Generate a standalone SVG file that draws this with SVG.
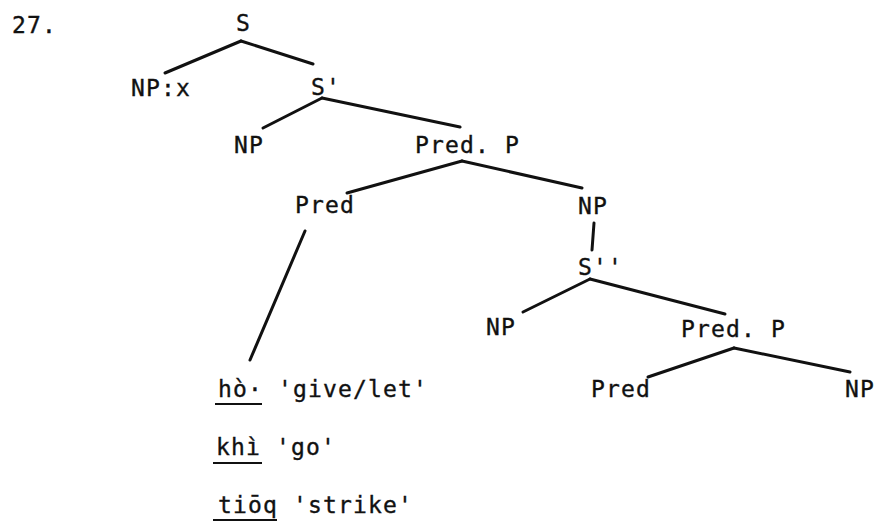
<svg xmlns="http://www.w3.org/2000/svg" width="878" height="527" viewBox="0 0 878 527">
  <style>
    .lbl { font-family: "DejaVu Sans Mono", "Liberation Mono", monospace; font-size: 23px; letter-spacing: 1.15px; fill: #111; stroke: #111; stroke-width: 0.35; }
    .edge { stroke: #111; stroke-width: 3; stroke-linecap: round; fill: none; }
    .ul { stroke: #111; stroke-width: 2; fill: none; }
  </style>
  <rect width="878" height="527" fill="#fff"/>

  <text class="lbl" x="12" y="33">27.</text>

  <!-- tree edges -->
  <g id="edges">
    <line class="edge" x1="241" y1="41" x2="165" y2="73"/>
    <line class="edge" x1="241" y1="41" x2="313" y2="64"/>
    <line class="edge" x1="322" y1="98" x2="263" y2="128"/>
    <line class="edge" x1="322" y1="98" x2="460" y2="127"/>
    <line class="edge" x1="462" y1="161" x2="347" y2="193"/>
    <line class="edge" x1="462" y1="161" x2="582" y2="188"/>
    <line class="edge" x1="594" y1="223" x2="592" y2="250"/>
    <line class="edge" x1="305" y1="231" x2="250" y2="360"/>
    <line class="edge" x1="590" y1="279" x2="523" y2="312"/>
    <line class="edge" x1="590" y1="279" x2="725" y2="314"/>
    <line class="edge" x1="734" y1="348" x2="648" y2="377"/>
    <line class="edge" x1="734" y1="348" x2="850" y2="372"/>
  </g>

  <g id="n-S"><text class="lbl" x="236" y="31">S</text></g>
  <g id="n-NPx"><text class="lbl" x="131" y="96">NP:x</text></g>
  <g id="n-S1"><text class="lbl" x="311" y="95">S'</text></g>
  <g id="n-NP1"><text class="lbl" x="234" y="153">NP</text></g>
  <g id="n-PredP1"><text class="lbl" x="415" y="153">Pred. P</text></g>
  <g id="n-Pred1"><text class="lbl" x="295" y="213">Pred</text></g>
  <g id="n-NP2"><text class="lbl" x="578" y="214">NP</text></g>
  <g id="n-S2"><text class="lbl" x="578" y="275">S''</text></g>
  <g id="n-NP3"><text class="lbl" x="486" y="335">NP</text></g>
  <g id="n-PredP2"><text class="lbl" x="681" y="337">Pred. P</text></g>
  <g id="n-Pred2"><text class="lbl" x="591" y="397">Pred</text></g>
  <g id="n-NP4"><text class="lbl" x="845" y="397">NP</text></g>

  <!-- lexical items under Pred -->
  <g id="lex">
    <text class="lbl" x="218" y="397">hò· 'give/let'</text>
    <line class="ul" x1="215" y1="404" x2="262" y2="404"/>
    <text class="lbl" x="216" y="455">khì 'go'</text>
    <line class="ul" x1="213" y1="463" x2="262" y2="463"/>
    <text class="lbl" x="218" y="513">tiōq 'strike'</text>
    <line class="ul" x1="213" y1="520" x2="277" y2="520"/>
  </g>
</svg>
